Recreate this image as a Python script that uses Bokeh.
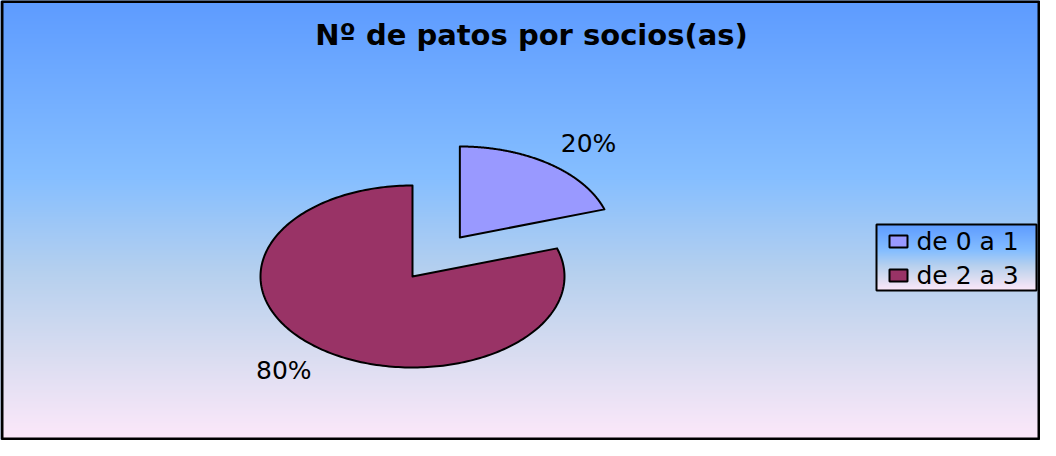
import numpy as np
from bokeh.plotting import figure
from bokeh.models import Range1d
from bokeh.core.properties import value
from bokeh.embed import file_html
from bokeh.resources import INLINE

# ---- data ----
chart_title = "Nº de patos por socios(as)"
categories = ["de 0 a 1", "de 2 a 3"]
values = [20, 80]
colors = ["#9999FF", "#993366"]
explode = [0.53, 0.0]

# ---- layout / style ----
W, H = 1040, 440
FONT = "DejaVu Sans"
stops_t = [0.0, 0.4, 0.62, 0.8, 1.0]
stops_c = [(93, 155, 255), (133, 190, 255), (182, 208, 238), (216, 220, 240), (253, 232, 250)]


def fx(x):
    return x


def fy(y):
    return H - y


def gradient_image(n_rows, t_of_row):
    img = np.zeros((n_rows, 2), dtype=np.uint32)
    view = img.view(dtype=np.uint8).reshape((n_rows, 2, 4))
    for i in range(n_rows):
        t = t_of_row(i)
        for ch in range(3):
            view[i, :, ch] = int(round(np.interp(t, stops_t, [c[ch] for c in stops_c])))
        view[i, :, 3] = 255
    return img


p = figure(width=W, height=H, x_range=Range1d(0, W), y_range=Range1d(0, H),
           output_backend="svg", toolbar_location=None, min_border=0,
           x_axis_type=None, y_axis_type=None)
p.grid.visible = False
p.outline_line_color = None
p.background_fill_color = "#8ec0ff"
p.border_fill_color = None

# background gradient (row 0 = bottom)
bg = gradient_image(H, lambda i: 1.0 - (i + 0.5) / H)
p.image_rgba(image=[bg], x=0, y=0, dw=W, dh=H)
# chart border
p.quad(left=[1.5], right=[W - 1.5], top=[H - 1], bottom=[1.5], fill_alpha=0,
       line_color="black", line_width=3)

# ---- pie (elliptical) ----
cx, cy = fx(412), fy(276)
rx, ry = 152, 91
total = float(sum(values))
cum = 0.0
mids = []
centers = []
for v, c, e in zip(values, colors, explode):
    a0 = 90 - cum / total * 360
    a1 = 90 - (cum + v) / total * 360
    cum += v
    mid = np.radians((a0 + a1) / 2)
    ox = cx + e * rx * np.cos(mid)
    oy = cy + e * ry * np.sin(mid)
    t = np.radians(np.linspace(a0, a1, 240))
    xs = [ox] + list(ox + rx * np.cos(t)) + [ox]
    ys = [oy] + list(oy + ry * np.sin(t)) + [oy]
    p.patch(xs, ys, fill_color=c, line_color="black", line_width=2, line_join="round")
    mids.append(mid)
    centers.append((ox, oy))

# percentage labels
lab_x, lab_y, lab_t = [], [], []
for v, mid, (ox, oy) in zip(values, mids, centers):
    lab_x.append(ox + 1.44 * rx * np.cos(mid))
    lab_y.append(oy + 1.28 * ry * np.sin(mid))
    lab_t.append(f"{round(v / total * 100)}%")
p.text(x=lab_x, y=lab_y, text=lab_t, text_align="center", text_baseline="middle",
       text_font=value(FONT), text_font_size="25px", text_color="black")

# ---- title ----
p.text(x=[fx(531)], y=[fy(34)], text=[chart_title], text_align="center",
       text_baseline="middle", text_font=value(FONT), text_font_size="29px",
       text_font_style="bold", text_color="black")

# ---- legend ----
L, R, T, B = fx(876), fx(1036), fy(224), fy(290)
n_leg = int(round(T - B))
lg = gradient_image(n_leg, lambda i: 1.0 - (i + 0.5) / n_leg)
p.image_rgba(image=[lg], x=L, y=B, dw=R - L, dh=T - B)
p.quad(left=[L], right=[R], top=[T], bottom=[B], fill_alpha=0,
       line_color="black", line_width=2)

row_y = [fy(241 + i * 34) for i in range(len(categories))]
p.quad(left=[fx(889)] * len(categories), right=[fx(907)] * len(categories),
       top=[y + 6 for y in row_y], bottom=[y - 6 for y in row_y],
       fill_color=colors, line_color="black", line_width=2)
p.text(x=[fx(916)] * len(categories), y=row_y, text=categories,
       text_align="left", text_baseline="middle", text_font=value(FONT),
       text_font_size="25px", text_color="black")

open("out.html", "w").write(file_html(p, INLINE))
